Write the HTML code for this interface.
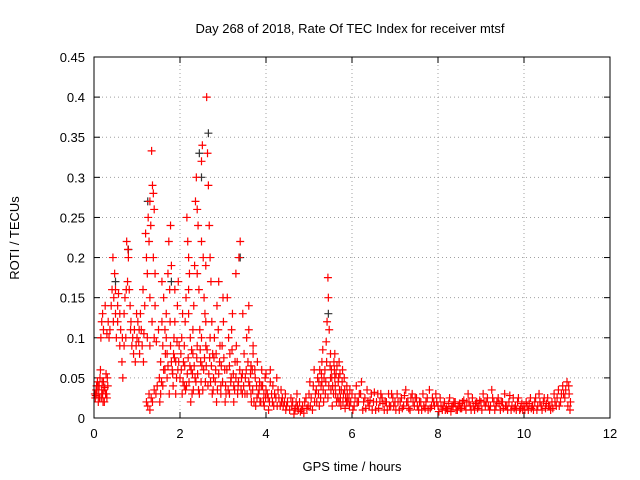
<!DOCTYPE html>
<html><head><meta charset="utf-8"><style>
body{margin:0;background:#fff}
svg{display:block;font-family:"Liberation Sans",sans-serif}
</style></head><body>
<svg id="chart" width="640" height="480">
<rect width="640" height="480" fill="#fff"/>
<text x="350" y="33" font-size="13" text-anchor="middle">Day 268 of 2018, Rate Of TEC Index for receiver mtsf</text>
<text x="352" y="471" font-size="13" text-anchor="middle">GPS time / hours</text>
<text transform="translate(19,238) rotate(-90)" font-size="13" text-anchor="middle">ROTI / TECUs</text>
<g id="grid"></g>
<g id="ticks"></g>
<g id="marks"></g>
<rect x="94" y="57" width="516" height="361" fill="none" stroke="#000" stroke-width="1"/>
</svg>
<script>
const xTicks=[0,2,4,6,8,10,12];
const yTicks=[0,0.05,0.1,0.15,0.2,0.25,0.3,0.35,0.4,0.45];
const yTickLabels=["0","0.05","0.1","0.15","0.2","0.25","0.3","0.35","0.4","0.45"];
const redPts=[
[0.02,.03],[0.03,.025],[0.05,.035],[0.07,.03],[0.08,.045],[0.1,.02],[0.12,.04],[0.14,.05],[0.15,.06],[0.17,.025],[0.18,.035],[0.2,.03],[0.22,.045],[0.24,.02],[0.25,.038],[0.27,.03],[0.28,.055],[0.3,.025],[0.32,.04],[0.16,.1],[0.18,.12],[0.2,.13],[0.22,.11],[0.04,.028],[0.09,.04],[0.26,.14],[0.3,.105],[0.33,.12],[0.35,.1],[0.37,.11],
[0.4,.14],[0.42,.16],[0.44,.2],[0.46,.15],[0.48,.18],[0.5,.13],[0.52,.1],[0.55,.12],[0.57,.155],[0.6,.09],[0.62,.11],[0.65,.07],[0.67,.05],[0.7,.13],[0.72,.15],[0.74,.1],[0.76,.22],[0.78,.17],[0.8,.2],[0.82,.16],[0.84,.14],[0.86,.12],[0.88,.09],[0.9,.1],[0.92,.08],[0.94,.11],[0.96,.07],[0.98,.09],[1.0,.1],[1.02,.12],[1.04,.095],[1.06,.08],[1.08,.13],[1.1,.11],[1.12,.09],[1.14,.16],[1.16,.105],[1.18,.14],[0.6,.13],[0.66,.1],[0.7,.09],[0.75,.16],[0.79,.21],[0.85,.11],[0.5,.16],[0.45,.12],[0.55,.14],[0.99,.13],[1.05,.11],[1.15,.07],
[1.2,.23],[1.22,.2],[1.24,.18],[1.26,.25],[1.28,.22],[1.3,.27],[1.32,.24],[1.34,.333],[1.36,.29],[1.38,.28],[1.4,.26],[1.42,.18],[1.22,.02],[1.25,.015],[1.28,.03],[1.3,.01],[1.33,.025],[1.36,.02],[1.4,.035],[1.44,.03],[1.47,.04],[1.24,.1],[1.3,.09],[1.35,.12],[1.4,.1],[1.45,.095],[1.5,.11],[1.3,.15],[1.38,.2],[1.42,.14],
[1.52,.05],[1.55,.07],[1.58,.12],[1.6,.09],[1.62,.15],[1.65,.11],[1.68,.13],[1.7,.08],[1.72,.18],[1.74,.22],[1.76,.16],[1.78,.24],[1.8,.19],[1.82,.06],[1.84,.04],[1.86,.1],[1.88,.12],[1.9,.07],[1.92,.05],[1.94,.14],[1.96,.17],[1.98,.09],[1.55,.03],[1.6,.04],[1.65,.06],[1.7,.05],[1.75,.03],[1.8,.07],[1.85,.08],[1.9,.03],[1.95,.06],[1.58,.17],[1.68,.1],[1.77,.12],[1.88,.16],
[2.0,.05],[2.02,.08],[2.04,.1],[2.06,.13],[2.08,.07],[2.1,.04],[2.12,.12],[2.14,.15],[2.16,.25],[2.18,.22],[2.2,.2],[2.22,.18],[2.24,.1],[2.26,.06],[2.28,.03],[2.3,.08],[2.32,.14],[2.34,.19],[2.36,.27],[2.38,.3],[2.4,.26],[2.42,.24],[2.44,.16],[2.46,.11],[2.48,.07],[2.5,.32],[2.52,.34],[2.54,.2],[2.56,.15],[2.58,.13],[2.6,.09],[2.62,.4],[2.64,.33],[2.66,.29],[2.68,.24],[2.7,.2],[2.72,.17],[2.74,.12],[2.76,.08],[2.78,.05],[2.05,.03],[2.15,.04],[2.25,.02],[2.35,.05],[2.45,.03],[2.55,.06],[2.65,.04],[2.75,.03],[2.1,.09],[2.2,.13],[2.3,.11],[2.4,.09],[2.5,.1],[2.6,.12],[2.7,.1],[2.2,.16],[2.4,.18],[2.6,.19],[2.5,.22],
[2.8,.1],[2.83,.06],[2.86,.14],[2.89,.11],[2.92,.07],[2.95,.04],[2.98,.09],[3.01,.12],[3.04,.06],[3.07,.03],[3.1,.15],[3.13,.1],[3.16,.08],[3.19,.05],[3.22,.13],[3.25,.04],[3.28,.07],[3.31,.09],[3.34,.03],[3.37,.2],[3.4,.22],[3.43,.05],[3.46,.13],[3.49,.08],[2.85,.02],[2.95,.03],[3.05,.02],[3.15,.03],[3.25,.02],[3.35,.04],[3.45,.03],[2.9,.17],[3.0,.15],[3.2,.11],[3.3,.18],
[3.52,.05],[3.55,.1],[3.58,.07],[3.6,.14],[3.62,.04],[3.65,.03],[3.68,.06],[3.7,.08],[3.72,.02],[3.75,.05],[3.78,.04],[3.8,.07],[3.82,.03],[3.85,.045],[3.88,.02],[3.9,.06],[3.92,.04],[3.95,.03],[3.98,.05],[4.0,.035],[4.05,.025],[4.1,.045],[4.15,.02],[4.2,.03],[4.25,.05],[4.3,.025],[4.35,.035],[4.4,.015],[4.45,.03],[4.5,.02],[3.56,.03],[3.66,.02],[3.76,.015],[3.86,.02],[3.96,.015],[4.06,.01],[4.16,.04],[4.26,.015],[4.36,.02],[4.46,.01],[3.6,.11],[3.7,.09],[3.65,.065],[4.0,.055],[4.1,.06],
[4.55,.01],[4.6,.015],[4.65,.005],[4.7,.02],[4.75,.01],[4.8,.008],[4.85,.015],[4.9,.02],[4.95,.012],[5.0,.03],[5.05,.025],[5.1,.04],[5.15,.03],[5.2,.05],[4.58,.025],[4.68,.012],[4.78,.02],[4.88,.006],[4.98,.015],[5.08,.01],[5.18,.02],[5.02,.045],[5.12,.06],[4.72,.03],
[5.22,.03],[5.25,.06],[5.28,.04],[5.3,.07],[5.32,.085],[5.35,.05],[5.38,.03],[5.4,.095],[5.42,.12],[5.44,.175],[5.45,.15],[5.47,.11],[5.5,.08],[5.52,.06],[5.55,.04],[5.58,.07],[5.6,.05],[5.62,.03],[5.65,.065],[5.68,.045],[5.7,.02],[5.72,.055],[5.75,.035],[5.78,.06],[5.8,.03],[5.82,.05],[5.85,.025],[5.88,.04],[5.9,.02],[5.95,.035],[5.24,.015],[5.34,.02],[5.44,.025],[5.54,.015],[5.64,.02],[5.74,.015],[5.84,.012],[5.94,.015],[5.3,.045],[5.5,.05],[5.6,.08],[5.7,.07],
[6.0,.03],[6.05,.015],[6.1,.04],[6.15,.02],[6.2,.03],[6.25,.01],[6.3,.025],[6.35,.035],[6.4,.015],[6.45,.03],[6.5,.02],[6.55,.01],[6.6,.03],[6.65,.02],[6.7,.025],[6.75,.01],[6.8,.02],[6.85,.03],[6.9,.015],[6.95,.025],[6.02,.01],[6.12,.02],[6.22,.045],[6.32,.012],[6.42,.022],[6.52,.032],[6.62,.012],[6.72,.018],[6.82,.01],[6.92,.03],
[7.0,.02],[7.05,.03],[7.1,.01],[7.15,.025],[7.2,.015],[7.25,.035],[7.3,.02],[7.35,.01],[7.4,.03],[7.45,.015],[7.5,.025],[7.55,.01],[7.6,.02],[7.65,.03],[7.7,.012],[7.75,.025],[7.8,.035],[7.85,.015],[7.9,.02],[7.95,.03],[7.02,.01],[7.12,.02],[7.22,.028],[7.32,.012],[7.42,.02],[7.52,.015],[7.62,.01],[7.72,.02],[7.82,.012],[7.92,.015],
[8.0,.015],[8.05,.025],[8.1,.01],[8.15,.02],[8.2,.012],[8.25,.018],[8.3,.008],[8.35,.015],[8.4,.02],[8.45,.01],[8.5,.018],[8.55,.012],[8.6,.022],[8.65,.01],[8.7,.03],[8.75,.015],[8.8,.025],[8.85,.01],[8.9,.02],[8.95,.015],[8.02,.008],[8.12,.015],[8.22,.01],[8.32,.014],[8.42,.01],[8.52,.012],[8.62,.015],[8.72,.02],[8.82,.015],[8.92,.012],
[9.0,.02],[9.05,.03],[9.1,.015],[9.15,.025],[9.2,.01],[9.25,.035],[9.3,.02],[9.35,.015],[9.4,.025],[9.45,.01],[9.5,.02],[9.55,.03],[9.6,.015],[9.65,.02],[9.7,.01],[9.75,.025],[9.8,.015],[9.85,.02],[9.9,.01],[9.95,.018],[9.02,.01],[9.12,.02],[9.22,.015],[9.32,.01],[9.42,.018],[9.52,.012],[9.62,.01],[9.72,.015],[9.82,.01],[9.92,.012],
[10.0,.015],[10.05,.02],[10.1,.01],[10.15,.025],[10.2,.015],[10.25,.02],[10.3,.01],[10.35,.03],[10.4,.015],[10.45,.02],[10.5,.012],[10.55,.025],[10.6,.015],[10.65,.02],[10.7,.03],[10.75,.015],[10.8,.035],[10.85,.02],[10.9,.04],[10.95,.025],[11.0,.045],[11.05,.03],[11.08,.02],[10.02,.01],[10.12,.018],[10.22,.01],[10.32,.015],[10.42,.01],[10.52,.018],[10.62,.01],[10.72,.02],[10.82,.015],[10.92,.03],[11.02,.015]
];
const extraPts=[
[2.03,.06],[2.07,.045],[2.11,.065],[2.13,.035],[2.17,.055],[2.19,.075],[2.21,.045],[2.23,.065],[2.27,.085],[2.29,.055],[2.31,.035],[2.33,.065],[2.37,.045],[2.39,.075],[2.41,.055],[2.43,.035],[2.47,.085],[2.49,.045],[2.51,.065],[2.53,.035],[2.57,.075],[2.59,.045],[2.61,.065],[2.63,.085],[2.67,.055],[2.69,.075],[2.71,.045],[2.73,.065],[2.77,.035],[2.79,.075],
[2.82,.045],[2.84,.08],[2.87,.035],[2.9,.055],[2.93,.09],[2.96,.065],[2.99,.045],[3.02,.075],[3.06,.04],[3.09,.06],[3.12,.035],[3.15,.065],[3.18,.045],[3.21,.085],[3.24,.055],[3.27,.035],[3.3,.05],[3.33,.07],[3.36,.045],[3.39,.06],[3.42,.035],[3.45,.055],[3.48,.04],[3.51,.03],[3.54,.06],
[1.62,.06],[1.66,.08],[1.72,.065],[1.78,.09],[1.83,.055],[1.87,.075],[1.93,.095],[1.97,.07],[1.53,.02],[1.57,.045],
[3.6,.045],[3.64,.055],[3.69,.035],[3.74,.06],[3.79,.025],[3.84,.035],[3.89,.04],[3.94,.02],[3.99,.025],[4.03,.03],[4.08,.02],[4.13,.03],[4.18,.015],[4.23,.025],[4.28,.035],[4.33,.015],[4.38,.025],[4.43,.02],[4.48,.015],
[5.23,.045],[5.27,.025],[5.29,.055],[5.33,.035],[5.37,.06],[5.39,.045],[5.41,.07],[5.46,.04],[5.49,.065],[5.51,.035],[5.53,.05],[5.57,.03],[5.59,.06],[5.61,.04],[5.63,.055],[5.67,.025],[5.69,.05],[5.71,.035],[5.73,.025],[5.77,.045],[5.79,.02],[5.83,.035],[5.87,.02],[5.89,.03],[5.93,.025],[5.97,.02],
[6.07,.025],[6.17,.03],[6.27,.02],[6.37,.02],[6.47,.01],[6.57,.02],[6.67,.03],[6.77,.02],[6.87,.015],[6.97,.015],
[7.07,.02],[7.17,.012],[7.27,.02],[7.37,.025],[7.47,.025],[7.57,.02],[7.67,.015],[7.77,.01],[7.87,.025],[7.97,.02],
[8.07,.015],[8.17,.01],[8.27,.025],[8.37,.02],[8.47,.015],[8.57,.02],[8.67,.02],[8.77,.01],[8.87,.018],[8.97,.022],
[9.07,.02],[9.17,.015],[9.27,.025],[9.37,.02],[9.47,.02],[9.57,.015],[9.67,.028],[9.77,.012],[9.87,.025],[9.97,.01],
[10.07,.015],[10.17,.012],[10.27,.025],[10.37,.02],[10.47,.025],[10.57,.015],[10.67,.012],[10.77,.025],[10.87,.03],[10.97,.035],[11.04,.04],[11.07,.01],
[4.62,.02],[4.67,.01],[4.73,.015],[4.83,.01],[4.93,.025],[5.03,.015],[5.13,.02],[5.17,.035],
[0.06,.04],[0.11,.03],[0.13,.025],[0.19,.045],[0.21,.02],[0.23,.035],[0.29,.03],[0.31,.05]
];
const blackPts=[[0.5,.17],[1.25,.27],[2.5,.3],[2.66,.355],[3.4,.2],[5.45,.13],[2.45,.33],[0.8,.21],[1.8,.17]];

const NS='http://www.w3.org/2000/svg';
const X0=94,X1=610,Y0=418,Y1=57;
function sx(v){return X0+(v-0)/(12-0)*(X1-X0);}
function sy(v){return Y0-(v-0)/(0.45-0)*(Y0-Y1);}
function mk(tag,attrs,parent){const e=document.createElementNS(NS,tag);for(const k in attrs)e.setAttribute(k,attrs[k]);parent.appendChild(e);return e;}
const grid=document.getElementById('grid'),ticks=document.getElementById('ticks'),marks=document.getElementById('marks');
xTicks.forEach(t=>{
  const x=sx(t);
  if(t>0&&t<12){const g=mk('line',{x1:x,x2:x,y1:Y0,y2:Y1,stroke:'#a0a0a0','stroke-dasharray':'1,3'},grid);
  
  }
  mk('line',{x1:x,x2:x,y1:Y0,y2:Y0-6,stroke:'#000'},ticks);
  mk('line',{x1:x,x2:x,y1:Y1,y2:Y1+6,stroke:'#000'},ticks);
  const l=mk('text',{x:x,y:Y0+20,'font-size':13,'text-anchor':'middle'},ticks);
  l.textContent=String(t);
  
  
});
yTicks.forEach((t,i)=>{
  const y=sy(t);
  if(i>0&&i<yTicks.length-1){const g=mk('line',{x1:X0,x2:X1,y1:y,y2:y,stroke:'#a0a0a0','stroke-dasharray':'1,3'},grid);
  
  }
  mk('line',{x1:X0,x2:X0+6,y1:y,y2:y,stroke:'#000'},ticks);
  mk('line',{x1:X1,x2:X1-6,y1:y,y2:y,stroke:'#000'},ticks);
  const l=mk('text',{x:X0-9,y:y+5,'font-size':13,'text-anchor':'end'},ticks);
  l.textContent=yTickLabels[i];
  
  
});
function plus(p,color){
  const x=sx(p[0]),y=sy(p[1]);
  const e=mk('path',{d:`M${x-4},${y}H${x+4}M${x},${y-4}V${y+4}`,stroke:color,'stroke-width':1.2,fill:'none'},marks);
  
  
}
blackPts.forEach(p=>plus(p,'#333'));
redPts.forEach(p=>plus(p,'#ff0000'));
extraPts.forEach(p=>plus(p,'#ff0000'));
</script>
</body></html>
